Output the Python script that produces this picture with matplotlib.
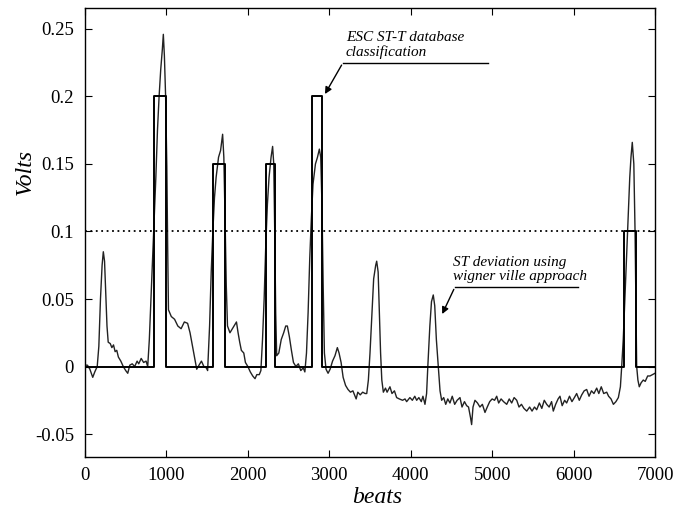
import numpy as np
import matplotlib.pyplot as plt

# ST deviation curve (wigner ville approach)
beats = [0, 30, 60, 95, 120, 150, 170, 190, 210, 225, 240, 255, 270, 285, 310, 330, 350, 370, 390, 410,
         440, 470, 500, 525, 550, 580, 610, 640, 660, 690, 720, 750, 770, 790, 810, 830, 850, 870, 890, 910,
         930, 950, 962, 975, 990, 1005, 1015, 1025, 1060, 1100, 1140, 1180, 1220, 1260, 1290, 1320, 1350, 1372, 1400, 1430,
         1460, 1490, 1506, 1530, 1550, 1570, 1590, 1610, 1640, 1665, 1690, 1705, 1720, 1735, 1750, 1780, 1800, 1830, 1860, 1880,
         1900, 1920, 1950, 1970, 2000, 2030, 2060, 2088, 2110, 2140, 2160, 2180, 2200, 2220, 2240, 2260, 2285, 2304, 2318, 2330,
         2342, 2354, 2380, 2410, 2440, 2465, 2485, 2510, 2535, 2560, 2590, 2620, 2650, 2680, 2700, 2720, 2740, 2760, 2780, 2800,
         2830, 2855, 2878, 2895, 2910, 2925, 2940, 2960, 2985, 3010, 3040, 3070, 3099, 3120, 3145, 3170, 3200, 3230, 3260, 3290,
         3310, 3330, 3350, 3380, 3410, 3440, 3460, 3480, 3500, 3520, 3545, 3570, 3582, 3600, 3615, 3630, 3645, 3664, 3690, 3710,
         3745, 3770, 3800, 3827, 3860, 3900, 3930, 3950, 3990, 4020, 4050, 4073, 4100, 4130, 4150, 4175, 4195, 4210, 4235, 4255,
         4277, 4295, 4315, 4339, 4360, 4380, 4405, 4430, 4455, 4482, 4510, 4540, 4570, 4605, 4630, 4660, 4687, 4710, 4735, 4748,
         4765, 4789, 4820, 4850, 4880, 4912, 4940, 4970, 5000, 5030, 5056, 5080, 5110, 5140, 5179, 5210, 5240, 5270, 5302, 5330,
         5360, 5390, 5425, 5460, 5490, 5520, 5547, 5580, 5610, 5640, 5670, 5700, 5730, 5751, 5780, 5810, 5833, 5860, 5890, 5915,
         5950, 5980, 6010, 6038, 6070, 6100, 6130, 6161, 6190, 6220, 6250, 6284, 6310, 6340, 6370, 6407, 6430, 6460, 6489, 6520,
         6550, 6575, 6591, 6610, 6630, 6650, 6670, 6690, 6705, 6721, 6740, 6755, 6765, 6775, 6790, 6807, 6830, 6856, 6880, 6910,
         6938, 6970, 7000]
st_dev = [0.001, 0.001, -0.002, -0.008, -0.004, 0.0, 0.015, 0.05, 0.075, 0.085, 0.078, 0.055, 0.03, 0.018, 0.017, 0.014, 0.016, 0.011, 0.012, 0.007,
          0.004, 0.0, -0.003, -0.005, 0.001, 0.002, 0.0, 0.004, 0.002, 0.006, 0.003, 0.004, 0.0, 0.02, 0.05, 0.08, 0.11, 0.14, 0.175, 0.2,
          0.22, 0.235, 0.246, 0.23, 0.2, 0.148, 0.09, 0.042, 0.037, 0.035, 0.03, 0.028, 0.033, 0.032, 0.025, 0.015, 0.005, -0.002, 0.001, 0.004,
          0.0, -0.001, -0.003, 0.03, 0.07, 0.1, 0.125, 0.14, 0.155, 0.16, 0.172, 0.155, 0.11, 0.06, 0.03, 0.025, 0.027, 0.03, 0.033, 0.025,
          0.018, 0.012, 0.01, 0.003, 0.0, -0.004, -0.007, -0.009, -0.006, -0.006, -0.003, 0.02, 0.05, 0.09, 0.12, 0.14, 0.155, 0.163, 0.15, 0.1,
          0.04, 0.008, 0.01, 0.02, 0.025, 0.03, 0.03, 0.022, 0.012, 0.003, 0.0, 0.002, -0.003, -0.001, -0.004, 0.01, 0.04, 0.08, 0.11, 0.135,
          0.15, 0.155, 0.161, 0.155, 0.12, 0.06, 0.01, -0.002, -0.005, -0.002, 0.004, 0.008, 0.014, 0.01, 0.003, -0.008, -0.014, -0.017, -0.019, -0.018,
          -0.021, -0.024, -0.019, -0.021, -0.019, -0.02, -0.02, -0.01, 0.01, 0.035, 0.065, 0.075, 0.078, 0.07, 0.04, 0.01, -0.01, -0.019, -0.016, -0.019,
          -0.015, -0.02, -0.018, -0.023, -0.024, -0.025, -0.024, -0.026, -0.023, -0.025, -0.022, -0.025, -0.023, -0.026, -0.022, -0.028, -0.02, 0.0, 0.03, 0.048,
          0.053, 0.045, 0.02, 0.0, -0.018, -0.025, -0.023, -0.028, -0.024, -0.027, -0.022, -0.028, -0.025, -0.023, -0.03, -0.026, -0.029, -0.03, -0.038, -0.043,
          -0.03, -0.025, -0.027, -0.03, -0.028, -0.034, -0.03, -0.026, -0.024, -0.025, -0.022, -0.027, -0.024, -0.026, -0.028, -0.024, -0.027, -0.023, -0.025, -0.03,
          -0.028, -0.031, -0.033, -0.03, -0.033, -0.03, -0.032, -0.027, -0.031, -0.025, -0.028, -0.03, -0.026, -0.033, -0.028, -0.024, -0.022, -0.029, -0.025, -0.027,
          -0.022, -0.026, -0.023, -0.02, -0.025, -0.021, -0.018, -0.017, -0.022, -0.018, -0.02, -0.016, -0.02, -0.015, -0.02, -0.019, -0.022, -0.024, -0.028, -0.026,
          -0.023, -0.015, 0.0, 0.02, 0.05, 0.08, 0.11, 0.14, 0.155, 0.166, 0.15, 0.1, 0.05, 0.0, -0.01, -0.015, -0.012, -0.01, -0.011, -0.007,
          -0.007, -0.006, -0.005]

# ESC ST-T database classification episodes
ep_start = [850, 1570, 2220, 2790, 6620]
ep_end = [1000, 1720, 2330, 2910, 6770]
ep_level = [0.2, 0.15, 0.15, 0.2, 0.1]

threshold = 0.1

# build the step outline of the classification
cx = [0]
cy = [0]
for s, e, lv in zip(ep_start, ep_end, ep_level):
    cx += [s, s, e, e]
    cy += [0, lv, lv, 0]
cx.append(7000)
cy.append(0)

serif = ['Liberation Serif', 'DejaVu Serif']
plt.rcParams['font.family'] = serif

fig = plt.figure(figsize=(6.86, 5.11), dpi=100)
ax = fig.add_axes([85/686, 1 - 457/511, 570/686, 449/511])

ax.plot(beats, st_dev, color='#222222', lw=1.0)
ax.plot(cx, cy, color='black', lw=1.4)
ax.axhline(threshold, color='black', lw=1.3, ls=(0, (1, 2)))

ax.set_xlim(0, 7000)
ax.set_ylim(-0.067, 0.2655)
ax.set_xticks(range(0, 7001, 1000))
ax.set_yticks([-0.05, 0, 0.05, 0.1, 0.15, 0.2, 0.25])
ax.set_yticklabels(['-0.05', '0', '0.05', '0.1', '0.15', '0.2', '0.25'])
ax.tick_params(direction='in', length=5, width=0.8, top=True, right=True, labelsize=13.5, pad=8)
ax.tick_params(axis='x', pad=7)
for sp in ax.spines.values():
    sp.set_linewidth(1.0)

# annotations
ax.text(3205, 0.228, 'ESC ST-T database\nclassification', style='italic', fontsize=11,
        va='bottom', ha='left', linespacing=1.05)
ax.plot([3168, 4945], [0.225, 0.225], color='black', lw=1.0)
ax.annotate('', xy=(2930, 0.2), xytext=(3168, 0.225),
            arrowprops=dict(arrowstyle='-|>', color='black', lw=1.0, mutation_scale=10))

ax.text(4516, 0.062, 'ST deviation using\nwigner ville approach', style='italic', fontsize=11,
        va='bottom', ha='left', linespacing=1.05)
ax.plot([4544, 6055], [0.059, 0.059], color='black', lw=1.0)
ax.annotate('', xy=(4372, 0.037), xytext=(4544, 0.059),
            arrowprops=dict(arrowstyle='-|>', color='black', lw=1.0, mutation_scale=10))

fig.text(25/686, 1 - 172/511, 'Volts', style='italic', fontsize=17, rotation=90, ha='center', va='center')
fig.text(377/686, 1 - 497/511, 'beats', style='italic', fontsize=17, ha='center', va='center')

fig.savefig('out.png', dpi=100)
